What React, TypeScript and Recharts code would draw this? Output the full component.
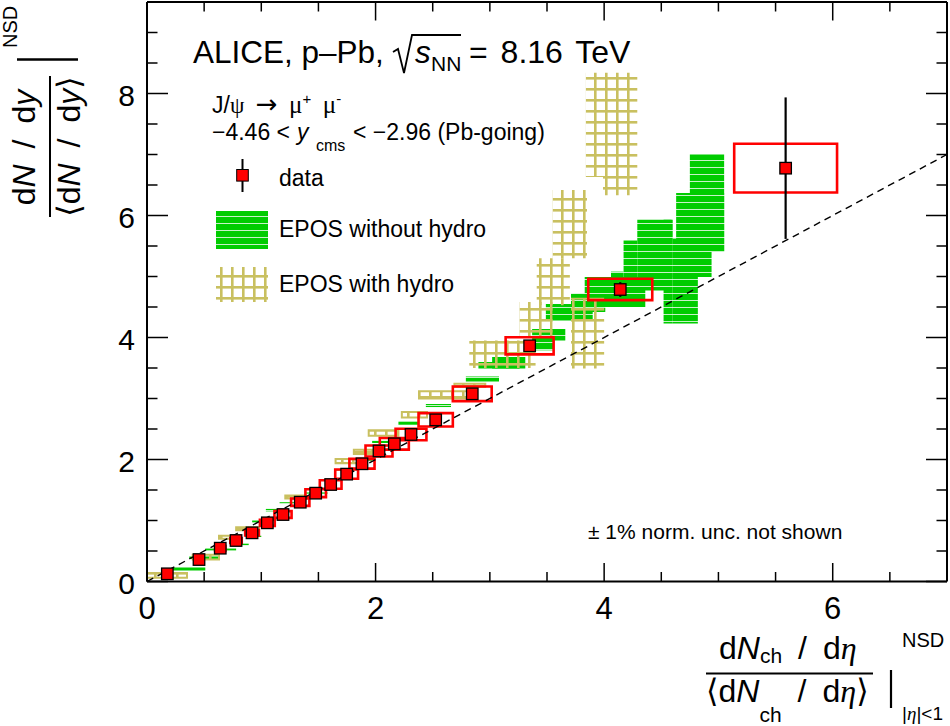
import React from "react";
import {
  ScatterChart,
  Scatter,
  XAxis,
  YAxis,
  ReferenceArea,
  ReferenceLine,
  ErrorBar,
} from "recharts";

// ---------- data ----------
const xData = [0.178, 0.455, 0.641, 0.779, 0.919, 1.053, 1.19, 1.341, 1.476, 1.607, 1.747, 1.881, 2.03, 2.164, 2.31, 2.526, 2.846, 3.348, 4.141, 5.588];
const yData = [0.126, 0.36, 0.546, 0.672, 0.798, 0.962, 1.098, 1.3, 1.448, 1.59, 1.76, 1.93, 2.14, 2.257, 2.41, 2.65, 3.077, 3.864, 4.787, 6.776];
const yStat = [0.02, 0.02, 0.02, 0.02, 0.02, 0.02, 0.03, 0.03, 0.03, 0.03, 0.04, 0.04, 0.04, 0.05, 0.05, 0.06, 0.07, 0.09, 0.12, 1.16];
const xSys = [0.025, 0.035, 0.045, 0.05, 0.06, 0.065, 0.075, 0.08, 0.09, 0.095, 0.1, 0.11, 0.118, 0.127, 0.135, 0.15, 0.17, 0.21, 0.28, 0.45];
const ySys = [0.02, 0.03, 0.035, 0.04, 0.045, 0.05, 0.055, 0.06, 0.065, 0.07, 0.075, 0.08, 0.09, 0.095, 0.095, 0.11, 0.12, 0.14, 0.175, 0.4];

// EPOS without hydro: boxes (x1, x2, y1, y2)
const noHydroX1 = [4.75, 4.63, 4.6, 4.6, 4.52, 4.29, 4.17, 4.06, 3.83, 3.71, 3.49, 3.37, 3.4, 3.02, 2.9, 2.79, 2.55, 2.44, 2.2, 1.97, 1.83, 1.64, 1.55, 1.39, 1.16, 1.04, 0.92, 0.86, 0.78, 0.51, 0.37, 0.22];
const noHydroX2 = [5.05, 5.05, 4.94, 4.82, 4.6, 4.59, 4.29, 4.17, 4.36, 4.01, 3.9, 3.66, 3.56, 3.31, 3.26, 3.08, 2.85, 2.66, 2.38, 2.15, 1.97, 1.81, 1.69, 1.58, 1.36, 1.18, 1.09, 1.0, 0.89, 0.78, 0.63, 0.51];
const noHydroY1 = [5.4, 5.4, 4.99, 4.23, 4.23, 4.77, 4.77, 4.77, 4.5, 4.42, 4.28, 3.95, 3.79, 3.49, 3.49, 3.28, 3.0, 2.86, 2.57, 2.27, 1.98, 1.82, 1.65, 1.44, 1.27, 1.15, 0.97, 0.73, 0.59, 0.51, 0.37, 0.18];
const noHydroY2 = [7.0, 6.37, 5.62, 5.62, 5.93, 5.93, 5.59, 5.08, 4.99, 4.72, 4.55, 4.14, 3.98, 3.68, 3.6, 3.36, 3.03, 2.91, 2.62, 2.31, 2.01, 1.85, 1.68, 1.46, 1.3, 1.19, 1.0, 0.75, 0.62, 0.54, 0.41, 0.23];

// EPOS with hydro: boxes (x1, x2, y1, y2)
const hydroX1 = [3.84, 3.99, 3.55, 3.41, 3.26, 3.71, 2.82, 2.69, 2.38, 2.23, 1.94, 1.81, 1.65, 1.21, 1.15, 0.78, 0.63, 0.4, 0.0];
const hydroX2 = [4.29, 4.29, 3.85, 3.7, 3.55, 4.0, 3.4, 2.96, 2.82, 2.45, 2.2, 1.97, 1.86, 1.39, 1.22, 0.98, 0.78, 0.63, 0.35];
const hydroY1 = [6.63, 6.33, 5.3, 4.53, 4.01, 3.49, 3.5, 3.19, 3.0, 2.69, 2.39, 2.09, 1.94, 1.36, 1.05, 0.84, 0.7, 0.36, 0.06];
const hydroY2 = [8.34, 6.63, 6.42, 5.3, 4.58, 4.65, 3.95, 3.24, 3.12, 2.78, 2.48, 2.16, 2.01, 1.41, 1.11, 0.89, 0.75, 0.44, 0.14];

const xTicks = [0, 0.5, 1, 1.5, 2, 2.5, 3, 3.5, 4, 4.5, 5, 5.5, 6, 6.5];
const yTicks = [0, 0.5, 1, 1.5, 2, 2.5, 3, 3.5, 4, 4.5, 5, 5.5, 6, 6.5, 7, 7.5, 8, 8.5, 9];
const xMajor = [0, 2, 4, 6];
const yMajor = [0, 2, 4, 6, 8];

const points = xData.map((x, i) => ({ x, y: yData[i], err: yStat[i] }));

const FONT = "'Liberation Sans', Arial, Helvetica, sans-serif";
const SERIF = "'Liberation Serif', 'DejaVu Serif', serif";
const GREEN = "#00cc00";
const KHAKI = "#c9c060";

// ---------- ticks (ROOT style: inward) ----------
const BottomTick = (p: any) => {
  const v = p.payload.value;
  const major = xMajor.includes(v);
  return (
    <g>
      <line x1={p.x} y1={p.y} x2={p.x} y2={p.y - (major ? 18.5 : 9.5)} stroke="#000" strokeWidth={1.5} />
      {major && (
        <text x={p.x} y={p.y + 37.5} textAnchor="middle" fontSize={31} fontFamily={FONT} fill="#000">
          {v}
        </text>
      )}
    </g>
  );
};
const TopTick = (p: any) => {
  const v = p.payload.value;
  const major = xMajor.includes(v);
  return <line x1={p.x} y1={p.y} x2={p.x} y2={p.y + (major ? 18.5 : 9.5)} stroke="#000" strokeWidth={1.5} />;
};
const LeftTick = (p: any) => {
  const v = p.payload.value;
  const major = yMajor.includes(v);
  return (
    <g>
      <line x1={p.x} y1={p.y} x2={p.x + (major ? 21 : 10.5)} y2={p.y} stroke="#000" strokeWidth={1.5} />
      {major && (
        <text x={p.x - 12} y={p.y + 12.5} textAnchor="end" fontSize={30} fontFamily={FONT} fill="#000">
          {v}
        </text>
      )}
    </g>
  );
};
const RightTick = (p: any) => {
  const v = p.payload.value;
  const major = yMajor.includes(v);
  return <line x1={p.x} y1={p.y} x2={p.x - (major ? 21 : 10.5)} y2={p.y} stroke="#000" strokeWidth={1.5} />;
};

const DataMarker = (p: any) => (
  <rect x={p.cx - 5.75} y={p.cy - 5.75} width={11.5} height={11.5} fill="#ff0000" stroke="#000" strokeWidth={1.3} />
);

export default function App() {
  return (
    <div style={{ position: "absolute", left: 0, top: 0, width: 950, height: 726, background: "#fff" }}>
      <ScatterChart width={950} height={726} margin={{ top: 0, right: 0, bottom: 0, left: 0 }}>
        <XAxis
          type="number"
          dataKey="x"
          domain={[0, 7]}
          ticks={xTicks}
          interval={0}
          height={144.5}
          tickSize={0}
          tickMargin={0}
          tickLine={false}
          axisLine={{ stroke: "#000", strokeWidth: 2 }}
          tick={BottomTick}
          allowDataOverflow
        />
        <XAxis
          xAxisId="top"
          orientation="top"
          type="number"
          dataKey="x"
          domain={[0, 7]}
          ticks={xTicks}
          interval={0}
          height={2}
          tickSize={0}
          tickMargin={0}
          tickLine={false}
          axisLine={{ stroke: "#000", strokeWidth: 2 }}
          tick={TopTick}
          allowDataOverflow
        />
        <YAxis
          type="number"
          dataKey="y"
          domain={[0, 9.5]}
          ticks={yTicks}
          interval={0}
          width={147}
          tickSize={0}
          tickMargin={0}
          tickLine={false}
          axisLine={{ stroke: "#000", strokeWidth: 2 }}
          tick={LeftTick}
          allowDataOverflow
        />
        <YAxis
          yAxisId="right"
          orientation="right"
          type="number"
          dataKey="y"
          domain={[0, 9.5]}
          ticks={yTicks}
          interval={0}
          width={3}
          tickSize={0}
          tickMargin={0}
          tickLine={false}
          axisLine={{ stroke: "#000", strokeWidth: 2 }}
          tick={RightTick}
          allowDataOverflow
        />

        {noHydroX1.map((x1, i) => (
          <ReferenceArea
            key={"g" + i}
            x1={x1}
            x2={noHydroX2[i]}
            y1={noHydroY1[i]}
            y2={noHydroY2[i]}
            fill="url(#eposNoHydro)"
            fillOpacity={1}
            stroke="none"
            ifOverflow="extendDomain"
          />
        ))}
        {hydroX1.map((x1, i) => (
          <ReferenceArea
            key={"k" + i}
            x1={x1}
            x2={hydroX2[i]}
            y1={hydroY1[i]}
            y2={hydroY2[i]}
            fill="url(#eposHydro)"
            fillOpacity={1}
            stroke={hydroY2[i] - hydroY1[i] < 0.2 ? KHAKI : "none"}
            strokeWidth={2}
            ifOverflow="extendDomain"
          />
        ))}
        <ReferenceLine
          segment={[
            { x: 0, y: 0 },
            { x: 7, y: 7 },
          ]}
          stroke="#000"
          strokeWidth={1.4}
          strokeDasharray="7 5"
        />
        {xData.map((x, i) => (
          <ReferenceArea
            key={"s" + i}
            x1={x - xSys[i]}
            x2={x + xSys[i]}
            y1={yData[i] - ySys[i]}
            y2={yData[i] + ySys[i]}
            fill="none"
            fillOpacity={0}
            stroke="#ff0000"
            strokeWidth={2.6}
            ifOverflow="extendDomain"
          />
        ))}
        <Scatter data={points} dataKey="y" shape={DataMarker} isAnimationActive={false}>
          <ErrorBar dataKey="err" direction="y" width={0} stroke="#000" strokeWidth={2.2} isAnimationActive={false} />
        </Scatter>
      </ScatterChart>

      <svg
        width={950}
        height={726}
        style={{ position: "absolute", left: 0, top: 0, pointerEvents: "none" }}
        fontFamily={FONT}
      >
        <defs>
          <pattern id="eposNoHydro" patternUnits="userSpaceOnUse" width="8" height="7">
            <rect width="8" height="7" fill={GREEN} />
            <rect y="6" width="8" height="1" fill="#c6f2c6" />
          </pattern>
          <pattern id="eposHydro" patternUnits="userSpaceOnUse" width="11" height="11">
            <rect x="0" y="0" width="2.6" height="11" fill={KHAKI} />
            <rect x="0" y="0" width="11" height="2.6" fill={KHAKI} />
          </pattern>
        </defs>

        {/* title */}
        <text x={193} y={63} fontSize={31.5} fill="#000">ALICE, p–Pb,</text>
        <path d="M393,52 L398,49 L404,73 L412,35 L461,35" fill="none" stroke="#000" strokeWidth={1.8} />
        <text x={415} y={63} fontSize={31.5} fontStyle="italic" fill="#000">s</text>
        <text x={431} y={71} fontSize={21} fill="#000">NN</text>
        <text x={469} y={63} fontSize={32} wordSpacing={4} fill="#000">{"= 8.16 TeV"}</text>

        {/* decay channel and rapidity */}
        <text x={212} y={113} fontSize={23} fill="#000">
          J/<tspan fontFamily={SERIF}>ψ</tspan>
          {"\u2002"}
          <tspan fontFamily="'DejaVu Sans', sans-serif" fontSize={26}>→</tspan>
          {"\u2002"}
          <tspan fontFamily={SERIF} fontSize={25}>μ</tspan>
          <tspan fontSize={15} dy={-9}>+</tspan>
          <tspan dy={9}>{"\u2002"}</tspan>
          <tspan fontFamily={SERIF} fontSize={25}>μ</tspan>
          <tspan fontSize={15} dy={-9}>-</tspan>
        </text>
        <text x={212} y={140} fontSize={23} fill="#000">−4.46 &lt;</text>
        <text x={297} y={140} fontSize={23} fontStyle="italic" fill="#000">y</text>
        <text x={316} y={151} fontSize={16} fill="#000">cms</text>
        <text x={353} y={140} fontSize={23} fill="#000">&lt; −2.96 (Pb-going)</text>

        {/* legend */}
        <line x1={242.5} y1={159} x2={242.5} y2={192} stroke="#000" strokeWidth={2} />
        <rect x={236.7} y={169.5} width={11.6} height={11.6} fill="#ff0000" stroke="#000" strokeWidth={1} />
        <text x={279} y={186} fontSize={23} fill="#000">data</text>
        <rect x={216} y={211} width={52} height={38} fill="url(#eposNoHydro)" />
        <text x={279} y={237} fontSize={23} fill="#000">EPOS without hydro</text>
        <rect x={216} y={267} width={52} height={35} fill="url(#eposHydro)" />
        <text x={279} y={292} fontSize={23} fill="#000">EPOS with hydro</text>

        {/* normalisation note */}
        <text x={588} y={539} fontSize={21} fill="#000">± 1% norm. unc. not shown</text>

        {/* x-axis title */}
        <text x={719} y={659} fontSize={32} fill="#000">
          d<tspan fontStyle="italic">N</tspan>
          <tspan fontSize={21} dy={4}>ch</tspan>
          <tspan dy={-4}>{"\u2002/\u2002d"}</tspan>
          <tspan fontFamily={SERIF} fontStyle="italic">η</tspan>
        </text>
        <line x1={706} y1={673.5} x2={873} y2={673.5} stroke="#000" strokeWidth={2} />
        <text x={706} y={702} fontSize={32} fill="#000">
          <tspan fontFamily={SERIF}>⟨</tspan>d<tspan fontStyle="italic">N</tspan>
          <tspan fontSize={21} dy={20}>ch</tspan>
          <tspan dy={-20}>{"\u2002/\u2002d"}</tspan>
          <tspan fontFamily={SERIF} fontStyle="italic">η</tspan>
          <tspan fontFamily={SERIF}>⟩</tspan>
        </text>
        <line x1={891} y1={670} x2={891} y2={708} stroke="#000" strokeWidth={2.2} />
        <text x={902} y={647} fontSize={20} fill="#000">NSD</text>
        <text x={902} y={720} fontSize={19} fill="#000">
          |<tspan fontFamily={SERIF} fontStyle="italic">η</tspan>|&lt;1
        </text>

        {/* y-axis title (rotated) */}
        <text transform="translate(35,147.5) rotate(-90)" textAnchor="middle" fontSize={32} fill="#000">
          d<tspan fontStyle="italic">N</tspan>
          {"\u2002/\u2002d"}
          <tspan fontStyle="italic">y</tspan>
        </text>
        <line x1={50} y1={76} x2={50} y2={217} stroke="#000" strokeWidth={2} />
        <text transform="translate(80,146.5) rotate(-90)" textAnchor="middle" fontSize={32} fill="#000">
          <tspan fontFamily={SERIF}>⟨</tspan>d<tspan fontStyle="italic">N</tspan>
          {"\u2002/\u2002d"}
          <tspan fontStyle="italic">y</tspan>
          <tspan fontFamily={SERIF}>⟩</tspan>
        </text>
        <line x1={17} y1={59.5} x2={78} y2={59.5} stroke="#000" strokeWidth={2.5} />
        <text transform="translate(17,48) rotate(-90)" fontSize={20} fill="#000">NSD</text>
      </svg>
    </div>
  );
}
